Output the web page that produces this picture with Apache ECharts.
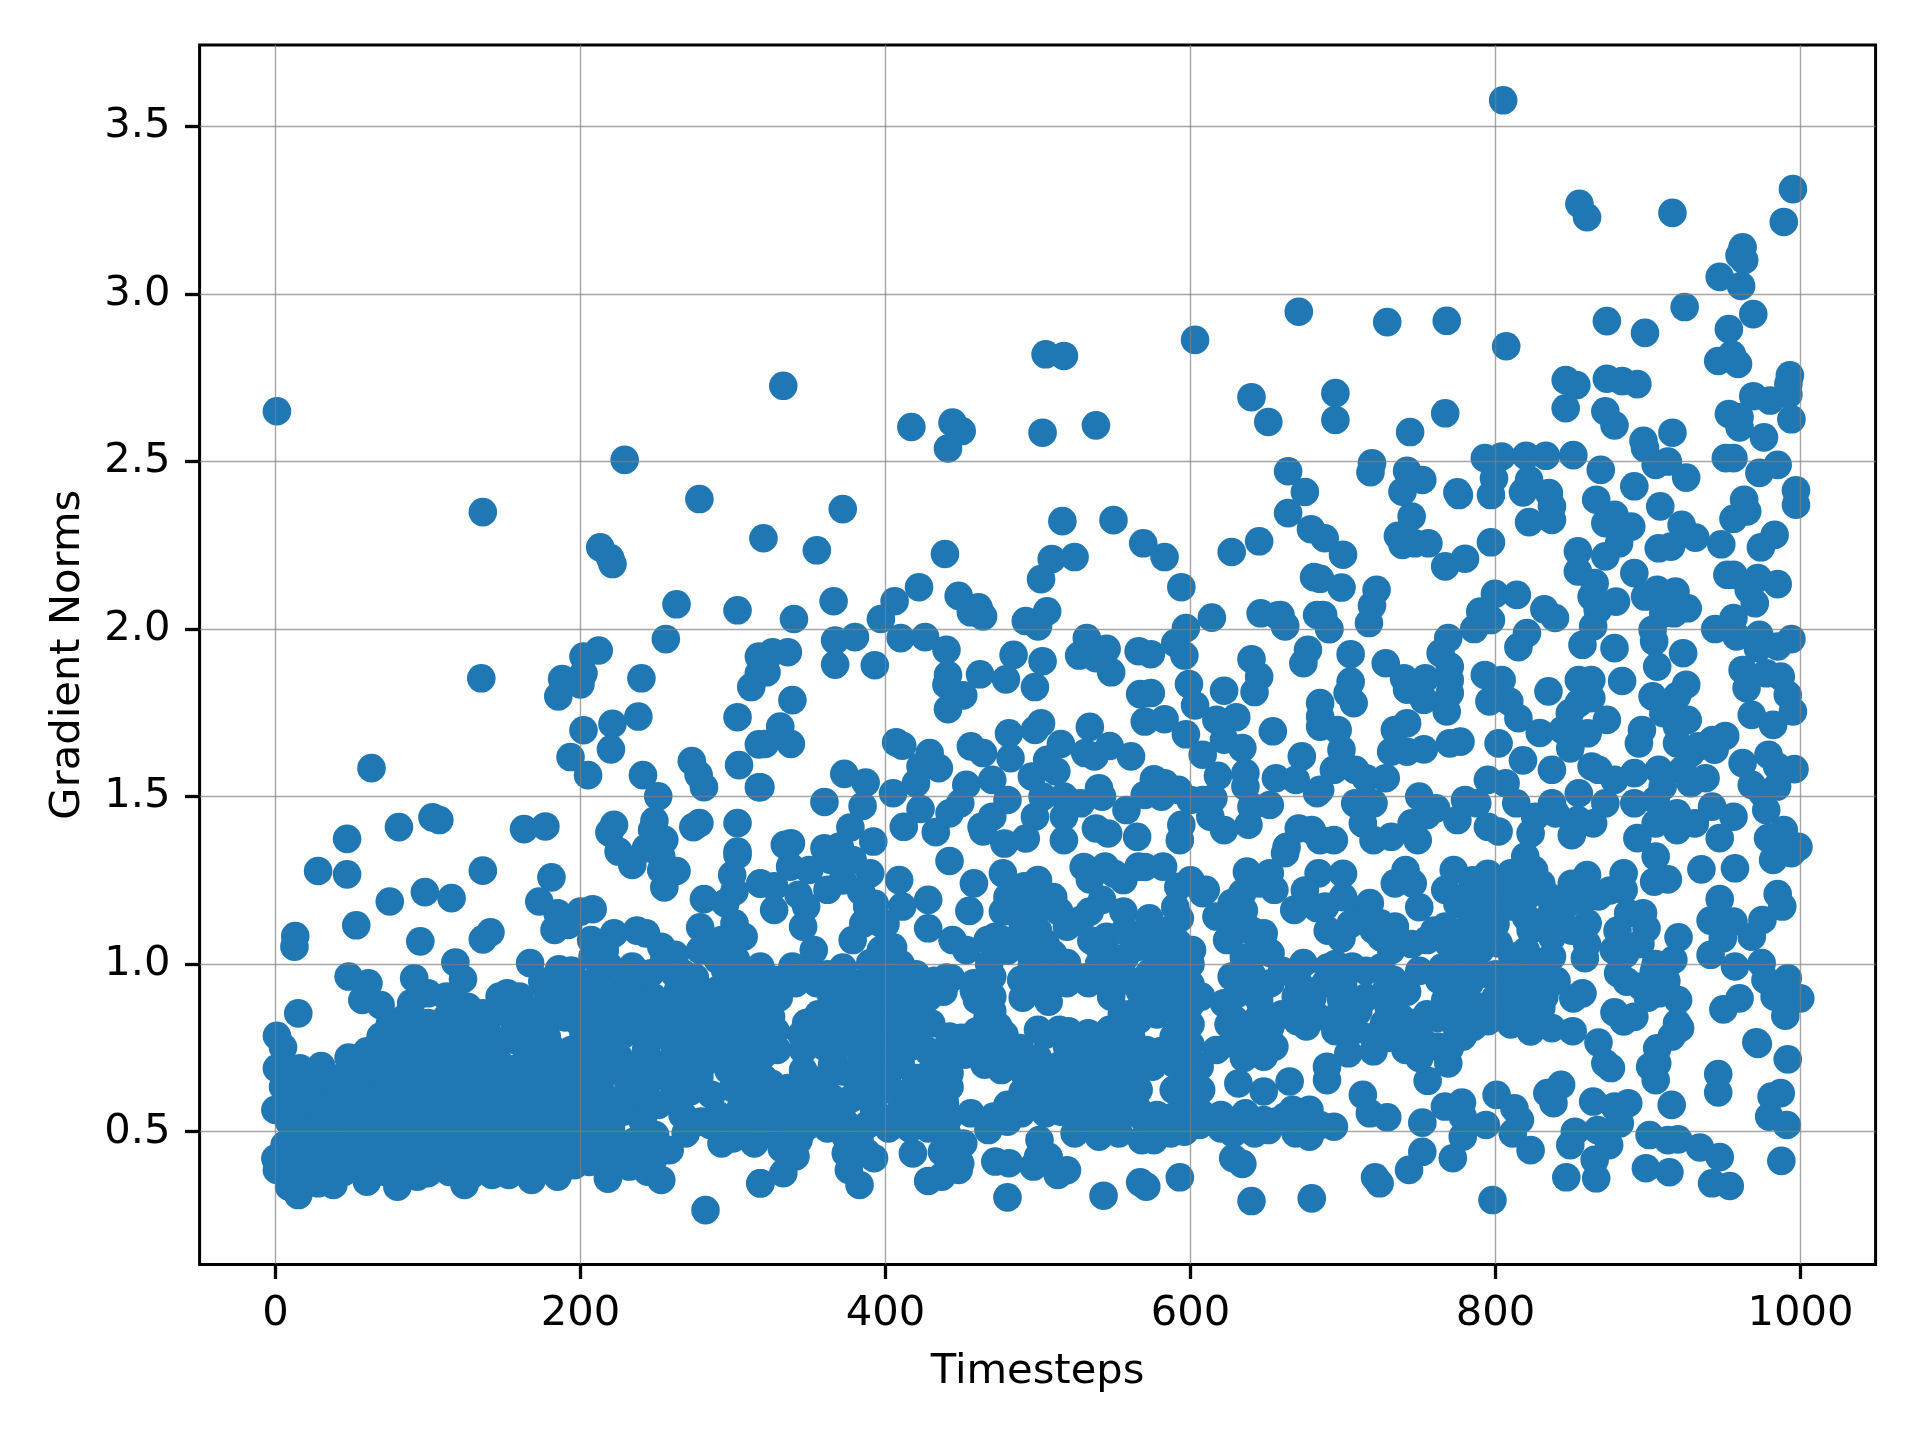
<!DOCTYPE html>
<html><head><meta charset="utf-8">
<script src="https://cdn.jsdelivr.net/npm/echarts@6/dist/echarts.min.js"></script>
<style>html,body{margin:0;padding:0;background:#fff}#c{width:1920px;height:1440px}</style></head>
<body><div id="c"></div>
<script>
const xTicks=[0,200,400,600,800,1000];
const yTicks=[0.5,1.0,1.5,2.0,2.5,3.0,3.5];
const xRange=[-49.7,1049.2];
const yRange=[0.104,3.743];
const xTitle="Timesteps";
const yTitle="Gradient Norms";
const pointsTop=[[805,3.578],[855,3.269],[860,3.229],[916,3.242],[995,3.313],[989,3.215],[962,3.139],[960,3.115],[963,3.101],[947,3.051],[961,3.024],[924,2.961],[671,2.947],[729,2.916],[768,2.92],[873,2.919],[898,2.884],[807,2.844],[969,2.94],[953,2.895],[955,2.819],[946,2.8],[959,2.791],[846,2.743],[853,2.728],[873,2.747],[883,2.74],[893,2.731],[993,2.757],[992,2.732],[992,2.7],[969,2.695],[980,2.682],[994,2.626],[846,2.659],[872,2.65],[878,2.608],[695,2.704],[695,2.624],[767,2.644],[744,2.588],[953,2.642],[960,2.632],[960,2.602],[976,2.572],[897,2.562],[916,2.586],[898,2.54],[1,2.65],[333,2.726],[505,2.82],[517,2.815],[603,2.863],[640,2.692],[651,2.618],[417,2.603],[444,2.616],[450,2.591],[441,2.539],[503,2.586],[538,2.608]];
const pointsHigh=[[905,2.49],[951,2.51],[956,2.51],[973,2.466],[985,2.49],[997,2.414],[997,2.371],[869,2.475],[891,2.426],[913,2.5],[925,2.452],[793,2.51],[804,2.515],[820,2.517],[833,2.517],[851,2.519],[799,2.45],[797,2.4],[822,2.445],[818,2.408],[835,2.406],[837,2.366],[822,2.319],[837,2.326],[775,2.408],[776,2.4],[719,2.495],[718,2.468],[742,2.472],[752,2.445],[739,2.41],[664,2.471],[675,2.409],[664,2.346],[745,2.336],[736,2.278],[739,2.251],[747,2.256],[756,2.256],[797,2.259],[679,2.298],[688,2.271],[700,2.222],[767,2.187],[780,2.21],[866,2.386],[854,2.232],[854,2.172],[878,2.341],[889,2.306],[872,2.316],[881,2.256],[872,2.217],[891,2.167],[908,2.366],[922,2.311],[931,2.273],[915,2.246],[907,2.241],[948,2.253],[963,2.386],[965,2.351],[956,2.329],[983,2.281],[974,2.244],[952,2.162],[956,2.162],[972,2.152],[985,2.134],[966,2.117],[970,2.077],[681,2.155],[699,2.124],[722,2.117],[719,2.07],[717,2.018],[657,2.04],[662,2.01],[687,2.042],[691,2],[865,2.137],[879,2.082],[863,2.097],[867,2.057],[898,2.097],[906,2.117],[918,2.112],[926,2.062],[910,2.047],[917,2.047],[799.6,2.105],[814,2.102],[790,2.052],[797,2.027],[786,2],[832,2.059],[839,2.033],[136,2.349],[213,2.244],[219.5,2.212],[221,2.194],[229,2.505],[278,2.388],[372,2.358],[320,2.271],[355,2.235],[439,2.224],[516,2.322],[549.5,2.325],[569,2.256],[583,2.215],[594,2.125],[509,2.209],[524,2.215],[502,2.149],[627,2.23],[645,2.262],[263,2.074],[303,2.056],[366,2.083],[340,2.03],[406,2.083],[422,2.125],[397,2.03],[448,2.099],[461,2.065],[456,2.05],[464,2.038],[506,2.053],[492,2.024],[500,2.008],[597,2.003],[614,2.034],[646,2.047],[659,2.042],[662,2.008],[683,2.042]];
const pointsUpperMid=[[944,2],[956,2.033],[958,1.978],[973,1.983],[994,1.97],[985,1.948],[972,1.943],[923,1.928],[904,1.963],[903,1.998],[906,1.888],[883,1.845],[925,1.834],[903,1.799],[919,1.8],[915,1.769],[926,1.729],[910,1.749],[919,1.709],[896,1.699],[894,1.659],[950.6,1.681],[942.4,1.669],[933,1.65],[919,1.659],[928,1.63],[943.6,1.64],[922.5,1.58],[937.7,1.555],[928,1.54],[907,1.58],[891,1.57],[909.6,1.53],[962,1.6],[979,1.625],[996,1.582],[984.6,1.59],[968,1.535],[984.6,1.53],[975,1.51],[968,1.744],[982,1.714],[991.6,1.804],[995,1.754],[962,1.878],[964.6,1.824],[987,1.858],[977.5,1.868],[854.6,1.848],[862.8,1.848],[834.7,1.814],[854.6,1.779],[862.8,1.794],[873,1.729],[860.4,1.689],[848.7,1.749],[844,1.699],[829,1.69],[815,1.734],[809,1.784],[804,1.848],[793,1.863],[796,1.784],[802,1.659],[818,1.608],[837,1.58],[849,1.644],[863,1.59],[867.5,1.58],[878,1.55],[854.6,1.51],[864,2.008],[857,1.953],[878,1.943],[820.6,1.988],[815,1.946],[769,1.973],[764,1.928],[770,1.888],[770,1.848],[770,1.809],[740,1.853],[754,1.853],[742,1.819],[753,1.789],[768,1.754],[728,1.898],[705,1.925],[705,1.843],[707,1.779],[703,1.809],[691,2],[685,2.04],[685,2.15],[742,1.719],[734,1.699],[731.6,1.634],[742,1.634],[753,1.641],[770,1.659],[777,1.664],[715,1.555],[728,1.555],[708,1.58],[694,1.58],[699,1.64],[696.5,1.699],[685,1.52],[708,1.48],[720,1.48],[713,1.42],[731.6,1.38],[685,1.37],[694,1.37],[720,1.37],[749,1.37],[761,1.465],[755,1.445],[775,1.43],[788,1.48],[795,1.41],[802,1.396],[823,1.39],[813.6,1.48],[806.6,1.54],[795,1.55],[837,1.48],[839.4,1.45],[864,1.42],[872,1.48],[891,1.48],[905,1.49],[919,1.45],[930.7,1.42],[942,1.47],[956,1.44],[977.5,1.46],[893,1.376],[919,1.4],[947,1.376],[978.7,1.376],[989,1.4],[998.6,1.35],[854,1.43],[850,1.385],[826,1.44],[780,1.49],[750,1.5]];
const pointsMidCentre=[[326,1.931],[336,1.931],[322,1.871],[367,1.966],[380,1.976],[367,1.894],[393,1.892],[410,1.973],[426,1.976],[440,1.938],[441,1.863],[440,1.834],[451,1.802],[441,1.761],[462,1.865],[479,1.85],[484,1.923],[503,1.904],[498,1.827],[532,1.973],[527,1.921],[545,1.941],[538,1.913],[548,1.871],[566,1.934],[574,1.925],[590,1.958],[596,1.921],[599,1.836],[603,1.772],[567,1.806],[574,1.809],[622,1.816],[570,1.724],[583,1.731],[597,1.686],[617,1.729],[630,1.737],[654,1.695],[640,1.91],[645,1.858],[642,1.812],[674,1.898],[677,1.938],[685,1.779],[685,1.739],[685,1.709],[339,1.788],[331,1.709],[338,1.657],[321,1.657],[407,1.662],[411,1.652],[502,1.719],[498,1.699],[481,1.689],[534,1.708],[515,1.657],[547,1.651],[531,1.63],[537,1.62],[561,1.62],[456,1.65],[464,1.63],[482,1.615],[429,1.63],[435,1.585],[423,1.59],[420,1.54],[506,1.61],[512,1.575],[496,1.56],[453,1.535],[470,1.55],[373,1.568],[387,1.542],[405,1.51],[360,1.484],[385,1.472],[377,1.408],[338,1.361],[360,1.346],[370,1.351],[392,1.366],[334,1.356],[318,1.528],[412,1.41],[433,1.394],[423,1.463],[442,1.45],[463,1.41],[470,1.44],[480,1.49],[449,1.48],[540,1.525],[542,1.5],[576,1.552],[592,1.52],[583,1.54],[570,1.505],[581,1.5],[608,1.49],[615,1.495],[618,1.562],[600,1.49],[636,1.57],[656,1.555],[673,1.62],[669,1.55],[636,1.53],[652,1.475],[683,1.51],[634,1.645],[622,1.67],[608,1.625],[638,1.416],[622,1.4],[613,1.44],[594,1.416],[593,1.37],[565,1.38],[558,1.46],[546,1.39],[538,1.405],[517,1.44],[498,1.44],[503,1.5],[517,1.5],[528,1.48],[517,1.37],[492,1.375],[478,1.36],[464,1.396],[671,1.405],[663,1.35],[679.5,1.4]];
const pointsLeftMid=[[256,1.97],[135,1.853],[212,1.936],[202,1.918],[202,1.868],[200,1.835],[188,1.851],[185.5,1.799],[240,1.853],[238,1.739],[221,1.717],[202,1.698],[220,1.641],[193.5,1.618],[205,1.564],[303,1.737],[312,1.827],[317,1.868],[304,1.594],[241,1.564],[251,1.501],[273,1.606],[277.5,1.565],[281,1.528],[317,1.528],[317,1.656],[317,1.918],[63,1.585],[47,1.374],[81,1.409],[103,1.438],[107.5,1.43],[163,1.403],[177,1.411],[222,1.416],[219,1.393],[248.5,1.428],[247,1.4],[255,1.371],[274,1.409],[278,1.421],[303,1.421],[303,1.336],[225,1.336],[243,1.346],[28,1.278],[47,1.268],[136,1.279],[75,1.187],[98,1.215],[115.5,1.197],[181,1.259],[173,1.187],[185,1.152],[200,1.157],[208,1.164],[183,1.102],[192,1.117],[53,1.116],[13,1.084],[12.5,1.052],[95,1.068],[141,1.095],[136,1.074],[118,1.005],[123,0.955],[167,1.003],[186,0.985],[194,0.981],[175,0.948],[186,0.938],[207,1.072],[222,1.092],[237,1.1],[243,1.092],[216,1.042],[253,1.052],[262,1.028],[208,1.023],[218,0.998],[206,0.943],[218,0.923],[235,0.923],[234,0.993],[246,0.973],[255,1.013],[281,1.194],[278.5,1.11],[299.5,1.266],[303,1.326],[301,1.217],[295,1.182],[301,1.122],[307,1.082],[292.5,1.072],[278.5,1.042],[234,1.296],[253,1.321],[263,1.278],[255,1.229],[253,1.281],[318,1.24],[267,0.973],[264,0.923],[290,1.013],[302,1.013],[290,0.923],[309,0.943],[283,0.863],[302,0.873],[255,0.863],[264,0.843],[246,0.843],[236,0.863],[222,0.843],[218,0.833],[48,0.963],[61,0.943],[57,0.893],[69,0.878],[91,0.958],[100,0.913],[89,0.883],[112,0.903],[126,0.873],[136,0.853],[147,0.903],[152,0.913],[160,0.903],[166,0.863],[15,0.853],[190,0.841],[157,0.814],[157,0.774],[178,0.782],[180,0.754],[202,0.784],[194,0.744]];
const pointsLeftLow=[[69,0.784],[79,0.784],[69,0.749],[1,0.786],[5,0.752],[100,0.824],[119,0.824],[138,0.804],[96,0.774],[115,0.754],[133,0.754],[147,0.704],[48,0.721],[16,0.689],[30,0.696],[1,0.689],[5,0.634],[0,0.565],[82,0.694],[96,0.694],[115,0.694],[133,0.694],[61,0.674],[44,0.664],[28,0.644],[16,0.625],[68,0.615],[86,0.625],[103,0.615],[119,0.645],[136,0.625],[145,0.645],[164,0.645],[177,0.684],[194,0.674],[208,0.694],[225,0.724],[243,0.744],[262,0.724],[278,0.744],[302,0.784],[278,0.804],[262,0.744],[232,0.644],[255,0.664],[278,0.664],[297,0.684],[311,0.724],[0,0.42],[1,0.386],[15,0.311],[9,0.336],[28,0.346],[38,0.341],[60,0.351],[80,0.336],[93,0.366],[100,0.376],[124,0.341],[142,0.371],[153,0.371],[168,0.356],[185,0.366],[196,0.4],[218,0.36],[232,0.396],[244,0.381],[253,0.356],[269,0.495],[258.5,0.445],[292.5,0.465],[314,0.465],[282,0.266],[318,0.346]];
const pointsLeftMass=[[37,0.6],[51,0.59],[63,0.61],[79,0.6],[93,0.58],[107,0.6],[121,0.59],[133,0.61],[149,0.6],[161,0.58],[177,0.6],[189,0.61],[205,0.59],[217,0.6],[233,0.58],[9,0.53],[23,0.54],[34,0.52],[48,0.53],[60,0.55],[74,0.53],[88,0.52],[101,0.54],[116,0.53],[128,0.55],[143,0.52],[158,0.53],[171,0.54],[186,0.52],[198,0.55],[213,0.53],[228,0.56],[241,0.53],[6,0.46],[19,0.47],[31,0.45],[46,0.46],[58,0.48],[73,0.46],[85,0.45],[100,0.47],[113,0.46],[129,0.45],[141,0.47],[156,0.46],[169,0.48],[184,0.46],[199,0.47],[211,0.45],[227,0.46],[241,0.46],[252,0.44],[11,0.4],[24,0.39],[36,0.41],[52,0.4],[66,0.39],[78,0.41],[94,0.4],[106,0.42],[122,0.39],[134,0.41],[150,0.4],[164,0.39],[176,0.42],[192,0.4],[206,0.41],[220,0.4],[234,0.42],[247,0.41],[53,0.66],[71,0.67],[87,0.65],[107,0.68],[124,0.67],[141,0.66],[159,0.69],[172,0.66],[191,0.65],[209,0.66],[223,0.68],[240,0.66],[112,0.74],[124,0.78],[148,0.77],[165,0.73],[215,0.76],[232,0.82],[248,0.8],[258,0.78],[280,0.7],[272,0.62],[286,0.61],[300,0.63],[312,0.6],[262,0.62],[290,0.55],[279,0.53],[267,0.55],[297,0.52],[251,0.58],[244,0.6],[300,0.74],[290,0.76],[310,0.82],[290,0.83],[270,0.87],[248,0.9],[232,0.96],[200,0.9],[178,0.86],[170,0.84],[207,0.85],[262,0.97],[275,0.96],[295,0.98],[320,0.88],[315,0.7],[318,0.62],[320,0.56],[303,0.66]];
const pointsLeftMassExtra=[[22,0.62],[35,0.66],[42,0.6],[12,0.56],[28,0.58],[55,0.7],[60,0.74],[75,0.72],[88,0.74],[100,0.72],[112,0.7],[128,0.72],[140,0.74],[148,0.68],[75,0.82],[85,0.84],[92,0.8],[105,0.8],[112,0.84],[128,0.82],[118,0.88],[140,0.84],[150,0.86],[165,0.8],[72,0.67],[92,0.64],[110,0.63],[125,0.62],[155,0.64],[170,0.62],[185,0.64],[200,0.63],[213,0.62],[228,0.6],[185,0.7],[195,0.72],[205,0.76],[180,0.68],[190,0.9],[178,0.92],[200,0.82],[212,0.84],[228,0.79],[238,0.8],[240,0.7],[252,0.7],[262,0.68],[268,0.7],[285,0.72],[295,0.8],[270,0.8],[285,0.78],[310,0.76],[302,0.7],[268,0.9],[278,0.92],[290,0.88],[300,0.92],[312,0.9],[310,0.85],[316,0.8],[234,0.89],[225,0.9],[215,0.88],[195,0.92],[272,0.52],[285,0.52],[300,0.48],[307,0.5],[318,0.5],[305,0.57],[16,0.36],[32,0.38],[45,0.38],[58,0.41],[72,0.38],[86,0.38],[100,0.42],[114,0.38],[128,0.37],[142,0.42],[158,0.4],[185,0.41],[200,0.43],[226,0.42],[240,0.42],[15,0.43],[28,0.43],[41,0.44],[52,0.44],[66,0.44],[80,0.44],[93,0.45],[107,0.46],[121,0.44],[135,0.45],[148,0.46],[162,0.45],[177,0.46],[192,0.45],[205,0.46],[219,0.47],[235,0.47],[249,0.49],[12,0.49],[25,0.5],[39,0.5],[53,0.5],[67,0.5],[80,0.5],[94,0.5],[108,0.51],[122,0.5],[136,0.5],[150,0.5],[164,0.51],[178,0.5],[192,0.49],[206,0.51],[220,0.51],[243,0.5],[15,0.58],[30,0.57],[44,0.56],[57,0.57],[70,0.57],[84,0.57],[97,0.56],[112,0.57],[126,0.56],[140,0.57],[155,0.56],[168,0.57],[182,0.57],[195,0.58],[210,0.57],[222,0.59]];
const pointsCentreLow=[[442,1.308],[458,1.241],[455,1.159],[477,1.271],[500,1.251],[491,1.232],[486,1.182],[477,1.157],[472,1.082],[514,1.157],[503,1.172],[534,1.253],[544,1.291],[556,1.251],[566,1.291],[582,1.291],[592,1.231],[608,1.212],[542,1.192],[556,1.157],[573,1.137],[593,1.137],[534,1.157],[528,1.132],[519,1.112],[545,1.082],[567,1.052],[575,1.052],[592,1.062],[601,1.042],[541,1.042],[575,1.092],[505,1.062],[491,1.062],[477,1.072],[467,1.072],[444,1.072],[453,1.042],[514,0.993],[519,1.003],[545,0.958],[548,0.903],[533,0.943],[519,0.943],[507,0.888],[500,0.933],[489,0.953],[470,0.963],[458,0.943],[443,0.958],[438,0.918],[470,0.903],[460,0.893],[474,0.814],[467,0.843],[470,0.754],[460,0.754],[476,0.684],[573,0.973],[567,0.918],[589,0.943],[607,0.903],[589,0.863],[566,0.834],[589,0.784],[589,0.704],[589,0.625],[589,0.545],[589,0.505],[606,0.52],[607,0.625],[606,0.694],[607,0.555],[500,0.804],[514,0.804],[533,0.794],[547,0.804],[561,0.784],[519,0.754],[549,0.744],[571,0.744],[575,0.694],[552,0.694],[507,0.664],[524,0.635],[538,0.614],[552,0.644],[566,0.625],[496,0.644],[491,0.575],[505,0.555],[489,0.555],[524,0.495],[540,0.485],[553,0.495],[568,0.475],[576,0.475],[556,0.555],[549.5,0.535],[568,0.545],[587,0.495],[501,0.475],[500,0.425],[519,0.385],[513,0.371],[497,0.396],[481,0.406],[472,0.411],[507,0.425],[480,0.304],[543,0.309],[567,0.349],[571,0.336],[593,0.364],[640,0.293],[679.5,0.301],[634,0.404],[628,0.421],[628,0.495],[642,0.495],[651,0.505],[669,0.495],[678,0.485],[636,0.555],[648,0.62],[631.4,0.644],[665,0.65],[667,0.565],[678,0.565],[648,0.535],[662,0.545],[648,0.724],[638,0.744],[627,0.764],[655,0.754],[617,0.744],[652.5,0.814],[645,0.844],[629,0.834],[622,0.883],[631,0.913],[645,0.893],[669,0.903],[683,0.844],[676,0.814],[671,0.943],[674,1.003],[652.5,0.943],[627,0.963],[652.5,1.033],[624,1.072],[648,1.092],[643,1.033],[627,1.182],[637,1.276],[652,1.271],[655,1.222],[645,1.241],[634,1.212],[668,1.162],[683,1.167],[684,1.271],[662,1.331],[617,1.142],[610,1.222]];
const pointsLeftCentreLow=[[327,1.162],[343,1.207],[337.5,1.291],[350,1.281],[362,1.222],[327,1.232],[318,1.241],[346,1.112],[353,1.042],[348,1.172],[364,1.311],[378.5,1.311],[390,1.271],[409,1.251],[384,1.217],[388,1.172],[385.5,1.122],[397,1.122],[397,1.042],[378.5,1.072],[411,1.172],[428,1.192],[428,1.107],[407,0.963],[418,0.913],[399.6,0.923],[385.5,0.923],[411,0.843],[430,0.823],[442,0.784],[418,0.784],[404,0.784],[399.6,0.863],[383,0.843],[348,0.824],[325,0.843],[339,0.993],[327,0.953],[341,0.943],[318,0.993],[355,0.943],[364,0.913],[378.5,0.943],[390,1.003],[318,0.903],[371,0.824],[378.5,0.843],[388,0.873],[369,0.754],[383,0.744],[397,0.744],[329,0.744],[346,0.744],[360,0.754],[346,0.684],[360,0.644],[380,0.664],[392.5,0.684],[325,0.644],[341,0.624],[332,0.585],[357,0.555],[343,0.565],[371,0.555],[392.5,0.565],[406.6,0.545],[404,0.625],[411,0.565],[425,0.565],[439,0.585],[442,0.674],[442,0.634],[428,0.614],[456,0.555],[471,0.545],[467.5,0.505],[442,0.545],[418,0.435],[437,0.44],[451,0.465],[449,0.405],[428,0.353],[437,0.366],[448,0.386],[392.5,0.421],[383,0.341],[376,0.386],[374,0.436],[388,0.436],[383,0.475],[374,0.485],[341,0.426],[333,0.376],[318,0.346],[343,0.475],[331,0.485],[324,0.495],[320,0.78],[330,0.9],[356,0.85],[372,0.68],[410,0.7],[420,0.66],[410,0.8]];
const pointsCentreExtra=[[320,0.93],[362,0.97],[372,0.99],[350,0.98],[365,0.87],[375,0.88],[395,0.96],[405,0.9],[392,0.84],[370,0.79],[358,0.8],[380,0.79],[392,0.79],[405,0.83],[420,0.84],[420,0.87],[428,0.9],[432,0.95],[420,0.97],[410,1],[400,1.03],[405,1.05],[400,1.12],[393,1.18],[372,1.25],[328,0.8],[320,0.73],[320,0.66],[345,0.79],[336,0.63],[350,0.66],[365,0.7],[352,0.6],[365,0.6],[378,0.6],[392,0.62],[400,0.68],[405,0.74],[415,0.75],[428,0.74],[440,0.73],[430,0.68],[415,0.59],[428,0.56],[350,0.52],[362,0.51],[375,0.52],[388,0.52],[402,0.51],[416,0.51],[428,0.51],[440,0.5],[330,0.54],[320,0.55],[345,0.5],[332,0.45],[340,0.52],[452,0.73],[465,0.7],[480,0.74],[450,0.78],[460,0.8],[478,0.79],[488,0.75],[490,0.68],[470,0.86],[458,0.92],[490,0.9],[440,0.96],[468,1],[496,1],[510,0.96],[540,1],[557,1.02],[480,1.04],[510,1.03],[535,1.07],[500,1.1],[490,1.12],[480,1.2],[495,1.19],[510,1.2],[505,0.79],[520,0.8],[535,0.76],[560,0.74],[580,0.74],[600,0.76],[600,0.82],[600,0.88],[600,0.94],[600,1],[585,1],[578,0.92],[578,0.85],[560,0.68],[545,0.65],[530,0.68],[517,0.62],[505,0.62],[490,0.62],[480,0.58],[480,0.53],[515,0.56],[528,0.58],[540,0.56],[552,0.58],[565,0.57],[530,0.54],[578,0.55],[578,0.5],[596,0.5],[598,0.6],[598,0.68],[555,0.85],[560,0.95],[553,0.98],[530,0.96],[505,0.93],[557,1.1],[585,1.1],[590,1.17],[600,1.25],[570,1.29],[550,1.27],[530,1.29],[635,0.72],[640,0.8],[625,0.82],[640,0.97],[660,0.98],[635,1.02],[630,1.1],[640,1.1],[635,1.16],[675,1.22],[670,0.83],[680,0.9],[690,0.99],[660,0.85],[620,0.55],[620,0.51],[656,0.53],[640,0.52],[670,0.53],[515,0.7],[530,0.73],[560,0.85],[575,0.9],[500,0.72],[540,0.72],[565,0.68]];
const pointsRightLow=[[860,1.266],[884,1.271],[904,1.246],[913,1.253],[935,1.283],[957,1.286],[982,1.311],[994,1.331],[905,1.321],[947,1.194],[985,1.209],[988,1.172],[941,1.13],[956,1.127],[975,1.132],[968,1.082],[949,1.077],[920,1.08],[941,1.028],[957,0.993],[974.5,1.003],[991.6,0.958],[977,0.953],[987,0.913],[983,0.903],[999.8,0.898],[960,0.898],[949.4,0.865],[990,0.846],[971,0.767],[972,0.762],[991.6,0.716],[946,0.672],[946,0.617],[987,0.615],[981,0.605],[979.4,0.545],[991,0.52],[987.4,0.413],[915.5,0.58],[901,0.49],[913,0.475],[919.7,0.477],[934,0.453],[947,0.424],[942,0.346],[953.6,0.338],[898.6,0.391],[914,0.379],[846.4,0.364],[866,0.361],[865,0.416],[874.5,0.46],[849,0.46],[852,0.5],[867,0.505],[881.5,0.525],[864,0.59],[878,0.575],[887,0.585],[843,0.64],[834,0.615],[838,0.585],[875.7,0.69],[872,0.704],[867.5,0.766],[905,0.654],[901.4,0.694],[906,0.704],[906,0.749],[921,0.809],[919,0.824],[915.5,0.784],[919.7,0.893],[907,0.913],[896.7,1.152],[899,1.107],[887,1.152],[884,1.222],[867.5,1.202],[858,1.192],[860.4,1.122],[877.5,1.042],[858.6,1.018],[916.6,1.013],[903.8,0.978],[880.4,0.973],[886,0.948],[895.6,0.933],[878,0.856],[884,0.829],[891,0.843],[857,0.913],[851,0.898],[832,0.903],[826.5,0.838],[823,0.799],[837,0.809],[850.6,0.8],[831,0.953],[820.6,0.973],[805.4,0.953],[783,0.943],[763,0.953],[772.6,0.943],[742,0.918],[733,0.953],[706,0.993],[688.3,0.943],[698.8,0.893],[688.3,1.172],[699,1.077],[710.6,1.162],[717.6,1.182],[724.6,1.122],[734,1.241],[741,1.281],[745.7,1.241],[767,1.222],[772.6,1.281],[783,1.212],[810,1.271],[825.3,1.281],[807.7,1.232],[819.5,1.321],[834.7,1.202],[846.4,1.177],[790,1.152],[790,1.072],[811.3,1.172],[823,1.102],[837,1.082],[802,1.062],[755,1.072],[767,1.112],[715,1.137],[720,1.102],[734,1.112],[837,1.023],[811,1.023],[790,1.042],[769,1.062],[731.6,1.042],[727,0.824],[720,0.784],[741,0.744],[751.5,0.774],[762,0.754],[769,0.704],[708,0.804],[698.8,0.863],[703.5,0.734],[689.5,0.694],[689.5,0.654],[755.5,0.652],[771.4,0.843],[785.5,0.813],[790,0.873],[767,0.893],[778.5,0.784],[745.7,0.824],[713,0.61],[717.6,0.555],[729,0.543],[752,0.527],[752,0.44],[743.3,0.386],[721,0.364],[724,0.346],[694,0.515],[685,0.52],[772,0.421],[778.5,0.485],[778,0.587],[766.8,0.575],[778.5,0.545],[793.7,0.52],[800.7,0.61],[812.4,0.57],[816,0.535],[811.3,0.495],[823,0.445],[798,0.296],[800,1.2],[800,1.12],[820,1.2],[780,1.1],[750,1.17],[700,1.2],[775,1],[750,0.98],[800,0.9],[810,0.82],[815,0.9],[840,0.95],[725,0.99],[715,0.9],[738,0.84],[755,0.85],[790,0.97]];
const pointsRightExtra=[[695,1],[690,1.1],[705,1.12],[700,1.27],[850,1.24],[795,1.27],[785,1.25],[800,1.24],[815,1.22],[830,1.24],[775,1.18],[785,1.14],[820,1.14],[835,1.14],[850,1.1],[760,1.1],[745,1.06],[780,1.03],[820,1.04],[830,1],[800,0.97],[765,0.99],[810,0.97],[820,0.92],[830,0.87],[810,0.86],[795,0.83],[780,0.87],[775,0.92],[762,0.84],[800,0.85],[775,0.8],[770,0.75],[745,0.78],[730,0.78],[730,0.87],[710,0.86],[695,0.8],[720,0.74],[750,0.72],[715,0.98],[728,0.92],[700,0.94],[725,1.08],[860,1.06],[880,1.1],[875,1.22],[895,1.06],[905,1],[885,1.03],[912,0.95],[900,0.9],[745,1.42],[640,1.47],[905,1.42]];
const allPoints=[].concat(pointsTop,pointsHigh,pointsUpperMid,pointsMidCentre,pointsLeftMid,pointsLeftLow,pointsLeftMass,pointsLeftMassExtra,pointsCentreLow,pointsLeftCentreLow,pointsCentreExtra,pointsRightLow,pointsRightExtra);
const font="DejaVu Sans";
const gridLine={show:true,lineStyle:{color:'rgba(128,128,128,0.7)',width:1.4}};
const textStyle={fontFamily:font,fontSize:41.67,color:'#000'};
const tick=v=>({show:true,length:14.6,lineStyle:{color:'#000',width:3.3},customValues:v});
const chart=echarts.init(document.getElementById('c'),null,{renderer:'canvas'});
chart.setOption({
 animation:false,
 grid:{left:199.6,top:45,right:44.4,bottom:175.6,show:true,borderColor:'#000',borderWidth:3},
 xAxis:{type:'value',min:xRange[0],max:xRange[1],z:5,name:xTitle,nameLocation:'middle',nameGap:87,
  nameTextStyle:textStyle,
  axisLine:{show:false,onZero:false},
  axisTick:tick(xTicks),
  axisLabel:{...textStyle,margin:29,customValues:xTicks,formatter:v=>String(v)},
  splitLine:gridLine},
 yAxis:{type:'value',min:yRange[0],max:yRange[1],z:5,name:yTitle,nameLocation:'middle',nameGap:110,
  nameTextStyle:textStyle,
  axisLine:{show:false,onZero:false},
  axisTick:tick(yTicks),
  axisLabel:{...textStyle,margin:29,padding:[7,0,0,0],customValues:yTicks,formatter:v=>v.toFixed(1)},
  splitLine:gridLine},
 series:[{type:'scatter',data:allPoints,symbol:'circle',symbolSize:28.6,itemStyle:{color:'#1f77b4',opacity:1},z:2,clip:false}]
});
</script></body></html>
